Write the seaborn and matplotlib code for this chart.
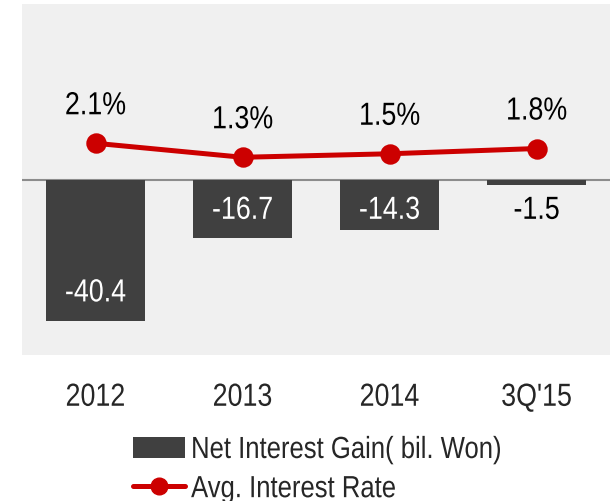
import matplotlib
matplotlib.use("Agg")
import matplotlib.pyplot as plt
import seaborn as sns
import pandas as pd
from matplotlib.patches import Patch
from matplotlib.lines import Line2D
from matplotlib.patheffects import AbstractPathEffect
from matplotlib.transforms import Affine2D
from matplotlib.path import Path

categories = ["2012", "2013", "2014", "3Q'15"]
net_interest_gain = [-40.4, -16.7, -14.3, -1.5]
avg_interest_rate = [2.1, 1.3, 1.5, 1.8]
rate_labels = ["2.1%", "1.3%", "1.5%", "1.8%"]
bar_labels = ["-40.4", "-16.7", "-14.3", "-1.5"]
legend_labels = ["Net Interest Gain( bil. Won)", "Avg. Interest Rate"]

BAR_COLOR = "#404040"
LINE_COLOR = "#CC0000"
BG = "#F0F0F0"


class Condense(AbstractPathEffect):
    """Horizontally condense text glyphs (narrow font look)."""

    def __init__(self, sx=0.84, anchor="center"):
        super().__init__()
        self.sx = sx
        self.anchor = anchor

    def draw_path(self, renderer, gc, tpath, affine, rgbFace=None):
        v = tpath.vertices
        if tpath.codes is not None:
            v = v[tpath.codes != Path.CLOSEPOLY]
        if self.anchor == "center" and len(v):
            cx = (v[:, 0].min() + v[:, 0].max()) / 2.0
        else:
            cx = 0.0
        t = Affine2D().translate(-cx, 0).scale(self.sx, 1).translate(cx, 0) + affine
        renderer.draw_path(gc, tpath, t, rgbFace)


COND_C = [Condense(0.84, "center")]
COND_L = [Condense(0.84, "left")]

sns.set_theme(style="white")
plt.rcParams["font.family"] = ["Liberation Sans", "DejaVu Sans"]

df = pd.DataFrame({"cat": categories, "gain": net_interest_gain, "rate": avg_interest_rate})

fig = plt.figure(figsize=(6.11, 5.02), dpi=100)
ax = fig.add_axes([22 / 611, 146 / 502, 588 / 611, 351 / 502])
ax.set_facecolor(BG)

sns.barplot(data=df, x="cat", y="gain", color=BAR_COLOR, width=0.67,
            saturation=1, ax=ax, zorder=2, edgecolor="none", linewidth=0)
ax.axhline(0, color="#8C8C8C", lw=1.5, zorder=1)
ax.set_ylim(-50.0, 50.3)
ax.set_xlim(-0.5, 3.5)
ax.set_xlabel("")
ax.set_ylabel("")
ax.set_yticks([])
ax.tick_params(axis="x", length=0, pad=20, labelsize=23)
for t in ax.get_xticklabels():
    t.set_path_effects(COND_C)
for s in ax.spines.values():
    s.set_visible(False)

for i, (v, lab) in enumerate(zip(net_interest_gain, bar_labels)):
    y = min(v + 8, -8.8)
    col = "white" if abs(v) > 5 else "black"
    ax.text(i, y, lab, ha="center", va="center", color=col, fontsize=23,
            zorder=3, path_effects=COND_C)

ax2 = ax.twinx()
sns.pointplot(data=df, x="cat", y="rate", color=LINE_COLOR, markers="o",
              linestyles="-", markersize=12, linewidth=3.6, errorbar=None, ax=ax2)
ax2.set_ylim(-10, 10.06)
ax2.set_xlim(-0.5, 3.5)
ax2.set_yticks([])
ax2.set_ylabel("")
ax2.set_xlabel("")
for s in ax2.spines.values():
    s.set_visible(False)

for i, (v, lab) in enumerate(zip(avg_interest_rate, rate_labels)):
    ax2.annotate(lab, (i, v), xytext=(0, 37), textcoords="offset pixels",
                 ha="center", va="center", fontsize=23, color="black",
                 path_effects=COND_C)

handles = [
    Patch(facecolor=BAR_COLOR, edgecolor="none"),
    Line2D([0], [0], color=LINE_COLOR, lw=3.6, marker="o", markersize=12),
]
leg = fig.legend(handles, legend_labels, loc="upper left",
                 bbox_to_anchor=(133 / 611, 1 - 436 / 502), frameon=False,
                 fontsize=22, handlelength=1.7, handletextpad=0.2,
                 labelspacing=0.3, borderpad=0, borderaxespad=0)
for t in leg.get_texts():
    t.set_path_effects(COND_L)

fig.savefig("out.png", dpi=100)
